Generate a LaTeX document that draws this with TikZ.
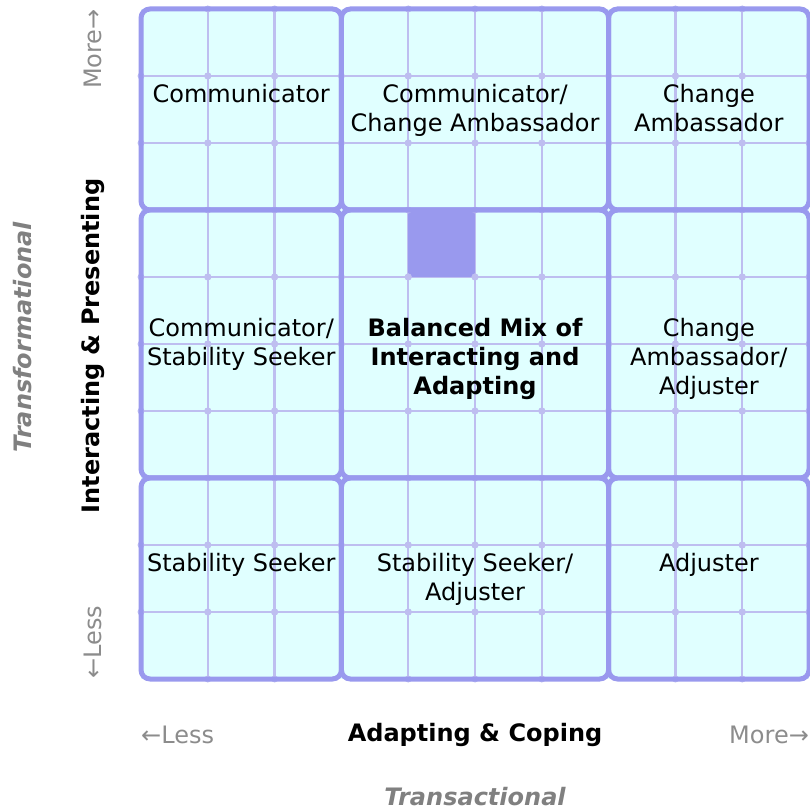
\documentclass[tikz,border=0pt]{standalone}
\usepackage{fontspec}
\setmainfont{DejaVu Sans}

\definecolor{cellfill}{RGB}{224,255,255}
\definecolor{majorline}{RGB}{153,153,238}
\definecolor{minorline}{RGB}{190,190,240}
\definecolor{markcell}{RGB}{153,153,238}
\definecolor{sidegray}{RGB}{128,128,128}
\definecolor{lessgray}{RGB}{140,140,140}

\tikzset{
  region/.style={draw=majorline, line width=5pt, rounded corners=9pt},
  thinline/.style={draw=minorline, line width=2.5pt},
  celltext/.style={anchor=north, align=center, inner sep=0pt, font=\fontsize{24}{29}\selectfont},
  axisname/.style={inner sep=0pt, font=\fontsize{24}{29}\selectfont\bfseries},
  sidename/.style={inner sep=0pt, text=sidegray, font=\fontsize{24}{29}\selectfont\bfseries\itshape},
  lessmore/.style={inner sep=0pt, text=lessgray, font=\fontsize{24}{29}\selectfont}
}

\begin{document}
\begin{tikzpicture}[x=66.8pt, y=67pt]
        \useasboundingbox ( -2.111, -1.985 ) rectangle ( 10, 10.134 );

        % фон сетки
        \fill [cellfill] ( 0, 0 ) rectangle ( 10, 10 );

        % тонкие линии
        \foreach \k in {1,2,4,5,6,8,9} {
            \draw [thinline] ( \k, 0 ) -- ( \k, 10 );
            \draw [thinline] ( 0, \k ) -- ( 10, \k );
        }

        % выделенная клетка
        \fill [markcell] ( 4, 6 ) rectangle ( 5, 7 );

        % точки на пересечениях
        \foreach \k in {1,2,4,5,6,8,9} \foreach \m in {0,...,10} {
            \fill [minorline] ( \k, \m ) circle [ radius = 3.5pt ];
            \fill [minorline] ( \m, \k ) circle [ radius = 3.5pt ];
        }

        % девять областей
        \foreach \xa/\xb in {0/3,3/7,7/10} \foreach \ya/\yb in {0/3,3/7,7/10}
            \draw [region] ( \xa, \ya ) rectangle ( \xb, \yb );

        % верхний ряд
        \node [celltext] (comm) at ( 1.5, 8.88 ) {Communicator};
        \node [celltext] (commamb) at ( 5, 8.88 ) {Communicator/\\Change Ambassador};
        \node [celltext] (amb) at ( 8.5, 8.88 ) {Change\\Ambassador};

        % средний ряд
        \node [celltext] (commstab) at ( 1.5, 5.38 ) {Communicator/\\Stability Seeker};
        \node [celltext, font=\fontsize{24}{29}\selectfont\bfseries] (mix) at ( 5, 5.38 ) {Balanced Mix of\\Interacting and\\Adapting};
        \node [celltext] (ambadj) at ( 8.5, 5.38 ) {Change\\Ambassador/\\Adjuster};

        % нижний ряд
        \node [celltext] (stab) at ( 1.5, 1.88 ) {Stability Seeker};
        \node [celltext] (stabadj) at ( 5, 1.88 ) {Stability Seeker/\\Adjuster};
        \node [celltext] (adj) at ( 8.5, 1.88 ) {Adjuster};

        % горизонтальная ось
        \node [axisname] (xname) at ( 5, -0.836 ) {Adapting \& Coping};
        \node [lessmore, anchor=west] (xless) at ( 0, -0.836 ) {←Less};
        \node [lessmore, anchor=east] (xmore) at ( 10, -0.836 ) {More→};
        \node [sidename] (xside) at ( 5, -1.75 ) {Transactional};

        % вертикальная ось
        \node [axisname, rotate=90] (yname) at ( -0.719, 4.97 ) {Interacting \& Presenting};
        \node [lessmore, rotate=90, anchor=west] (yless) at ( -0.719, 0 ) {←Less};
        \node [lessmore, rotate=90, anchor=east] (ymore) at ( -0.719, 10 ) {More→};
        \node [sidename, rotate=90] (yside) at ( -1.78, 5.10 ) {Transformational};
\end{tikzpicture}
\end{document}
